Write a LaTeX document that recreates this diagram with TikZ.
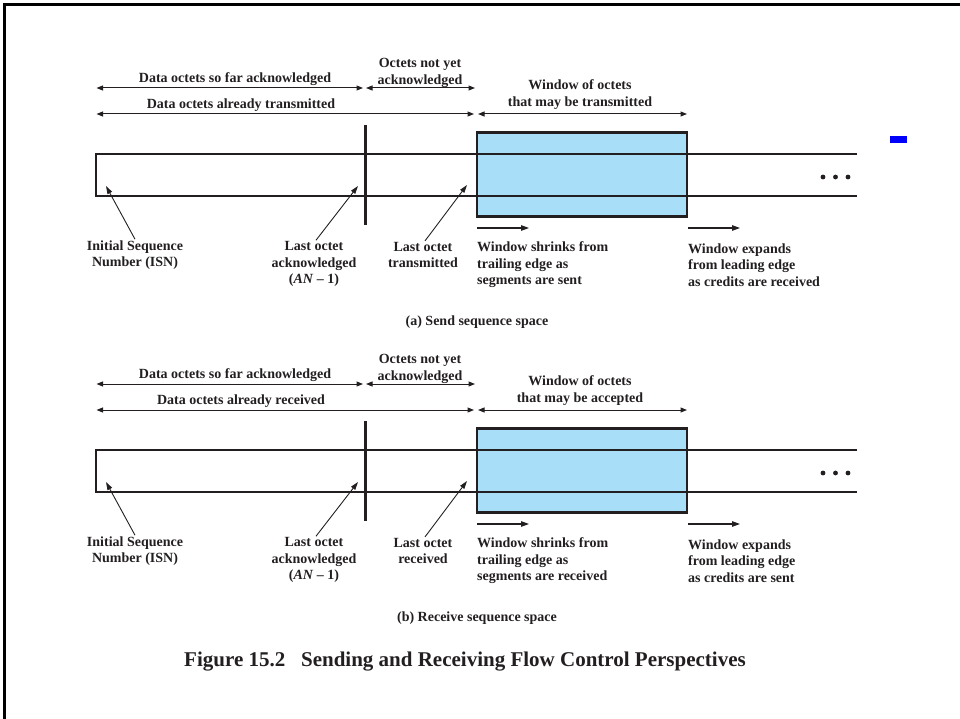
\documentclass[tikz,border=0pt]{standalone}
\usepackage{fontspec}
\setmainfont{Liberation Serif}
\usetikzlibrary{arrows.meta}
\definecolor{ink}{HTML}{231F20}
\definecolor{winblue}{RGB}{168,222,248}
\tikzset{
 lbl/.style={text=ink, font=\bfseries\fontsize{14}{16.5}\selectfont, align=center, inner sep=1pt},
 lbll/.style={lbl, align=left, anchor=west, inner sep=0pt},
 dimarrow/.style={draw=ink, line width=1pt, {Triangle[length=6.5pt,width=5pt]}-{Triangle[length=6.5pt,width=5pt]}},
 ptr/.style={draw=ink, line width=0.9pt, -{Triangle[length=8pt,width=5pt]}},
 dirarrow/.style={draw=ink, line width=1.1pt, -{Triangle[length=8pt,width=5.5pt]}},
 seqline/.style={draw=ink, line width=2pt},
 winbox/.style={draw=ink, line width=2.2pt, fill=winblue, minimum width=210pt, minimum height=84pt, inner sep=0pt},
 ackbar/.style={draw=ink, line width=3pt},
 frameline/.style={draw=black, line width=3pt},
}
\newcommand\seqpanel[8]{%
\begin{scope}[shift={(0,#2)}]
 % window box
 \node[winbox] (#1win) at (582,174.5) {};
 % sequence space
 \coordinate (#1e1) at (857,154); \coordinate (#1s0) at (96,154);
 \coordinate (#1s1) at (96,196); \coordinate (#1e2) at (857,196);
 \draw[seqline] (#1e1) -- (#1s0) -- (#1s1) -- (#1e2);
 % acknowledged bar
 \coordinate (#1v0) at (365,125); \coordinate (#1v1) at (365,225);
 \draw[ackbar] (#1v0) -- (#1v1);
 % dots
 \fill[ink] (823,177) circle[radius=2.4pt] (835.5,177) circle[radius=2.4pt] (848,177) circle[radius=2.4pt];
 % dimension arrows
 \coordinate (#1a0) at (96.5,88); \coordinate (#1a1) at (363,88);
 \coordinate (#1a2) at (366,88); \coordinate (#1a3) at (475,88);
 \coordinate (#1b0) at (96.5,114); \coordinate (#1b1) at (474,114);
 \coordinate (#1b2) at (478,114); \coordinate (#1b3) at (687,114);
 \draw[dimarrow] (#1a0) -- (#1a1);
 \draw[dimarrow] (#1a2) -- (#1a3);
 \draw[dimarrow] (#1b0) -- (#1b1);
 \draw[dimarrow] (#1b2) -- (#1b3);
 \node[lbl] (#1t1) at (235,79) {Data octets so far acknowledged};
 \node[lbl] (#1t2) at (420,73) {Octets not yet\\acknowledged};
 \node[lbl] (#1t3) at (241,105) {Data octets already #3};
 \node[lbl] (#1t4) at (580,94.5) {Window of octets\\that may be #4};
 % lower labels
 \node[lbl] (#1isn) at (135,255) {Initial Sequence\\Number (ISN)};
 \node[lbl] (#1lack) at (314,264) {Last octet\\acknowledged\\(\textit{AN} – 1)};
 \node[lbl] (#1ltx) at (423,255) {Last octet\\#5};
 \node[lbll] (#1shr) at (477,265) {Window shrinks from\\trailing edge as\\segments are #6};
 \node[lbll] (#1exp) at (688,265) {Window expands\\from leading edge\\as credits are #7};
 \node[lbl] (#1cap) at (477,322) {#8};
 % pointers
 \coordinate (#1p1) at (106,186); \coordinate (#1p2) at (358,186); \coordinate (#1p3) at (467,185);
 \draw[ptr] ([xshift=0pt]#1isn.north) -- (#1p1);
 \draw[ptr] ([xshift=2pt]#1lack.north) -- (#1p2);
 \draw[ptr] ([xshift=2pt]#1ltx.north) -- (#1p3);
 % direction arrows
 \coordinate (#1d0) at (477,228); \coordinate (#1d1) at (529,228);
 \coordinate (#1d2) at (688,228); \coordinate (#1d3) at (740,228);
 \draw[dirarrow] (#1d0) -- (#1d1);
 \draw[dirarrow] (#1d2) -- (#1d3);
\end{scope}}
\begin{document}
\begin{tikzpicture}[x=1pt,y=-1pt]
 \useasboundingbox (0,0) rectangle (960,719);
 \coordinate (fbl) at (4,719); \coordinate (ftl) at (4,5); \coordinate (ftr) at (960,5);
 \draw[frameline] (fbl) -- (ftl) -- (ftr);
 \seqpanel{A}{0}{transmitted}{transmitted}{transmitted}{sent}{received}{(a) Send sequence space}
 \seqpanel{B}{296}{received}{accepted}{received}{received}{sent}{(b) Receive sequence space}
 \fill[blue] (890,136) rectangle (907,143);
 \node[lbl, font=\bfseries\fontsize{21}{24}\selectfont] (cap) at (465,662) {Figure 15.2\hspace{0.75em}Sending and Receiving Flow Control Perspectives};
\end{tikzpicture}
\end{document}
